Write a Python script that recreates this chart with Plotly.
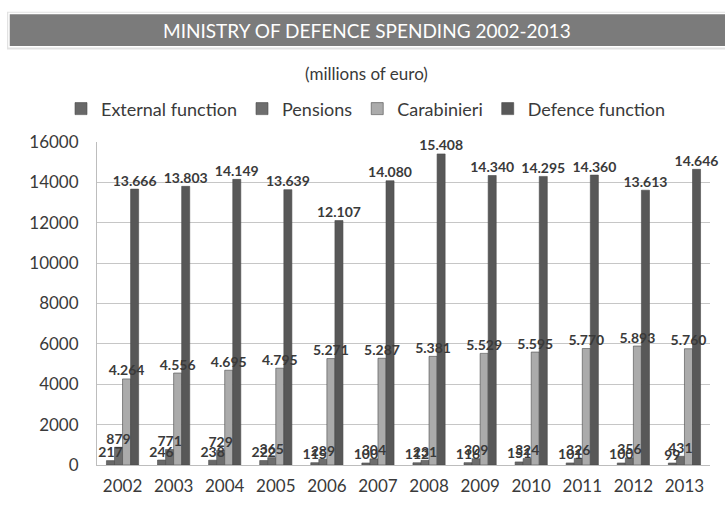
import plotly.graph_objects as go

years = ["2002", "2003", "2004", "2005", "2006", "2007", "2008", "2009", "2010", "2011", "2012", "2013"]
external_function = [217, 246, 238, 222, 115, 100, 112, 116, 151, 101, 100, 99]
pensions = [879, 771, 729, 365, 289, 304, 231, 309, 324, 326, 356, 431]
carabinieri = [4264, 4556, 4695, 4795, 5271, 5287, 5381, 5529, 5595, 5770, 5893, 5760]
defence_function = [13666, 13803, 14149, 13639, 12107, 14080, 15408, 14340, 14295, 14360, 13613, 14646]

series_names = ["External function", "Pensions", "Carabinieri", "Defence function"]
series_values = [external_function, pensions, carabinieri, defence_function]
series_colors = ["#686868", "#6e6e6e", "#ababab", "#585858"]

FONT = "Lato"
GAP = 0.37


def fmt(v):
    return f"{v:,}".replace(",", ".")


fig = go.Figure()
for i, (name, vals, col) in enumerate(zip(series_names, series_values, series_colors)):
    fig.add_trace(go.Bar(
        x=years, y=vals, name=name, offsetgroup=str(i),
        marker=dict(color=col, line=dict(color="#4a4a4a", width=0.6)),
    ))
# data labels drawn on top of all bars
for i, vals in enumerate(series_values):
    fig.add_trace(go.Scatter(
        x=years, y=vals, mode="text", offsetgroup=str(i), showlegend=False,
        text=[fmt(v) for v in vals], textposition="top center", cliponaxis=False,
        textfont=dict(family=FONT, size=14, color="#3a3a3a", weight="bold"),
        hoverinfo="skip",
    ))

# paper-coordinate helpers (plot area: x 97..710 px, y 142..474 px)
L, R, T, B = 97, 15, 142, 34
W, H = 725, 508
pw, ph = W - L - R, H - T - B


def px(x):
    return (x - L) / pw


def py(y):
    return (H - B - y) / ph


fig.add_shape(type="rect", xref="paper", yref="paper",
              x0=px(7), x1=px(728), y0=py(47), y1=py(8),
              fillcolor="#e2e2e2", line=dict(width=0), layer="below")
fig.add_shape(type="rect", xref="paper", yref="paper",
              x0=px(9), x1=px(728), y0=py(44), y1=py(10),
              fillcolor="#7b7b7b", line=dict(color="#ffffff", width=1.5), layer="below")
fig.add_annotation(xref="paper", yref="paper", x=px(367), y=py(27),
                   text="MINISTRY OF DEFENCE SPENDING 2002-2013", showarrow=False,
                   font=dict(family=FONT, size=19, color="#ffffff"),
                   xanchor="center", yanchor="middle")
fig.add_annotation(xref="paper", yref="paper", x=px(366), y=py(72),
                   text="(millions of euro)", showarrow=False,
                   font=dict(family=FONT, size=17, color="#3a3a3a"),
                   xanchor="center", yanchor="middle")

fig.update_layout(
    width=W, height=H,
    margin=dict(l=L, r=R, t=T, b=B),
    paper_bgcolor="#ffffff", plot_bgcolor="#ffffff",
    barmode="group", bargap=GAP, bargroupgap=0,
    scattermode="group", scattergap=GAP,
    font=dict(family=FONT, color="#3a3a3a"),
    showlegend=True,
    legend=dict(orientation="h", x=px(366), xanchor="center", y=py(108), yanchor="middle",
                font=dict(family=FONT, size=18, color="#3a3a3a"),
                itemwidth=30, traceorder="normal"),
    xaxis=dict(showgrid=False, showline=True, linecolor="#bdbdbd", linewidth=1,
               tickfont=dict(family=FONT, size=17, color="#3a3a3a"), ticks="",
               ticklabelstandoff=6),
    yaxis=dict(range=[0, 16000], dtick=2000, tickformat="d", showgrid=True,
               gridcolor="#c6c6c6", gridwidth=1,
               showline=True, linecolor="#bdbdbd", linewidth=1, zeroline=False,
               tickfont=dict(family=FONT, size=17, color="#3a3a3a"), ticks="",
               ticklabelstandoff=14),
)

fig.write_html("out.html")
